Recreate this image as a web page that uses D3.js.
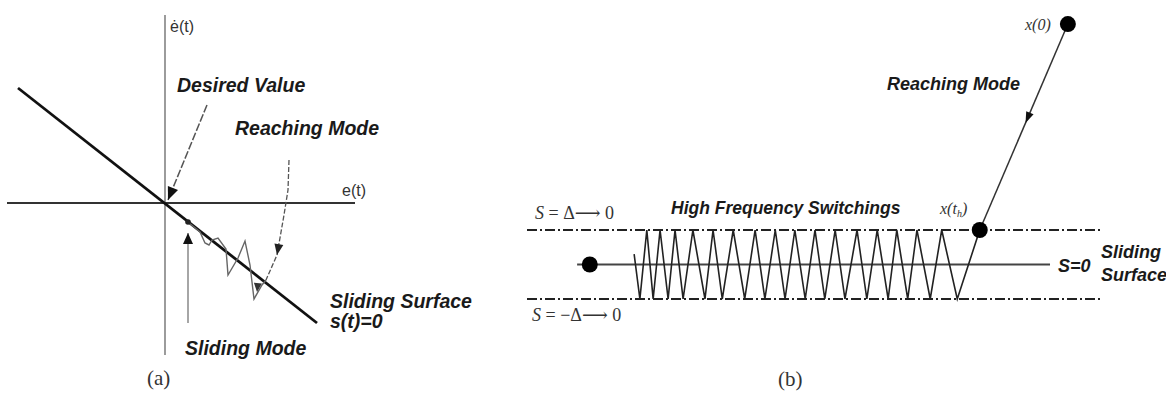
<!DOCTYPE html>
<html>
<head>
<meta charset="utf-8">
<script src="https://cdn.jsdelivr.net/npm/d3@7"></script>
<style>
  body { margin: 0; background: #fff; }
  svg { display: block; }
  .bi { font-family: "Liberation Sans", Arial, sans-serif; font-weight: bold; font-style: italic; fill: #1a1a1a; }
  .serif { font-family: "Liberation Serif", "DejaVu Serif", serif; fill: #333; }
</style>
</head>
<body>
<div id="chart"></div>
<script>
// ---- panel (a): phase plane e(t) / de(t), values in plot units ----
var surfaceA = [[-1.47, 1.15], [1.52, -1.20]];          // s(t)=0
var slidingTraj = [[0.23, -0.19], [0.35, -0.29], [0.40, -0.40], [0.44, -0.42], [0.47, -0.37],
                   [0.53, -0.35], [0.61, -0.46], [0.63, -0.72], [0.73, -0.55], [0.80, -0.38],
                   [0.85, -0.62], [0.89, -0.96], [0.97, -0.82], [1.01, -0.77]];
var reachingA = [[1.24, 0.43], [1.23, 0.13], [1.19, -0.12], [1.12, -0.52], [1.01, -0.77]];
var desiredArrow = [[0.42, 0.98], [0.03, 0.03]];
var slidingArrow = [[0.23, -1.20], [0.23, -0.30]];

// ---- panel (b): switching band, x = time-ish units, s in units of delta ----
var bandS = [1, -1];
var zigX = [1.86, 1.96, 2.08, 2.19, 2.31, 2.45, 2.57, 2.71, 2.88, 3.09, 3.23, 3.39, 3.58, 3.78, 3.96,
            4.13, 4.31, 4.48, 4.65, 4.83, 5.00, 5.17, 5.35, 5.52, 5.73, 5.90, 6.08, 6.27, 6.42,
            6.61, 6.77, 7.00, 7.20, 7.47, 7.86];
var zigS = [0.3, -1, 1, -1, 1, -1, 1, -1, 1, -1, 1, -1, 1, -1, 1,
            -1, 1, -1, 1, -1, 1, -1, 1, -1, 1, -1, 1, -1, 1,
            -1, 1, -1, 1, -1, 1];
var x0 = [9.39, 6.97];
var xth = [7.86, 1.0];
var startDot = [1.09, 0];
var surfaceB = [0.87, 9.08];

var W = 1166, H = 393;
var svg = d3.select('#chart').append('svg').attr('width', W).attr('height', H);

var xA = d3.scaleLinear().domain([-1.58, 1.90]).range([7, 355]);
var yA = d3.scaleLinear().domain([-1.52, 1.88]).range([355, 15]);
var xB = d3.scaleLinear().domain([0, 10]).range([527, 1103]);
var yB = d3.scaleLinear().domain([-1, 1]).range([299, 230]);

var lineA = d3.line().x(function(d) { return xA(d[0]); }).y(function(d) { return yA(d[1]); });
var lineB = d3.line().x(function(d) { return xB(d[0]); }).y(function(d) { return yB(d[1]); });

// filled triangle at (px,py) pointing along angle
function arrowHead(g, px, py, ang, len, wid, col) {
  var c = Math.cos(ang), s = Math.sin(ang);
  var bx = px - c * len, by = py - s * len;
  var pts = [[px, py], [bx - s * wid, by + c * wid], [bx + s * wid, by - c * wid]];
  g.append('path').attr('d', 'M' + pts.join('L') + 'Z').attr('fill', col);
}

// ================= panel (a) =================
var ga = svg.append('g');
ga.append('line').attr('x1', xA(-1.58)).attr('x2', xA(1.90)).attr('y1', yA(0)).attr('y2', yA(0))
  .attr('stroke', '#333').attr('stroke-width', 1.8);
ga.append('line').attr('x1', xA(0)).attr('x2', xA(0)).attr('y1', yA(1.88)).attr('y2', yA(-1.52))
  .attr('stroke', '#666').attr('stroke-width', 1.3);

ga.append('path').attr('d', lineA(surfaceA)).attr('stroke', '#111').attr('stroke-width', 2.8).attr('fill', 'none');

ga.append('path').attr('d', lineA(slidingTraj)).attr('stroke', '#666').attr('stroke-width', 1.4).attr('fill', 'none');
ga.append('circle').attr('cx', xA(slidingTraj[0][0])).attr('cy', yA(slidingTraj[0][1])).attr('r', 2.8).attr('fill', '#222');
arrowHead(ga, xA(0.92), yA(-0.89), Math.PI / 2 + 0.1, 9, 4, '#333');

ga.append('path').attr('d', lineA(reachingA)).attr('stroke', '#555').attr('stroke-width', 1.3)
  .attr('stroke-dasharray', '5,2').attr('fill', 'none');
var ra = reachingA[3], rb = reachingA[2];
arrowHead(ga, xA(ra[0]), yA(ra[1]), Math.atan2(yA(ra[1]) - yA(rb[1]), xA(ra[0]) - xA(rb[0])), 11, 4.5, '#222');

// desired value arrow
ga.append('path').attr('d', lineA(desiredArrow)).attr('stroke', '#555').attr('stroke-width', 1.5)
  .attr('stroke-dasharray', '8,2').attr('fill', 'none');
var dp = desiredArrow[1], dq = desiredArrow[0];
arrowHead(ga, xA(dp[0]), yA(dp[1]), Math.atan2(yA(dp[1]) - yA(dq[1]), xA(dp[0]) - xA(dq[0])), 13, 5.5, '#111');

// sliding mode arrow
ga.append('path').attr('d', lineA(slidingArrow)).attr('stroke', '#888').attr('stroke-width', 1.5).attr('fill', 'none');
arrowHead(ga, xA(slidingArrow[1][0]), yA(slidingArrow[1][1]), -Math.PI / 2, 11, 5, '#111');

ga.append('text').attr('x', 170).attr('y', 32).attr('font-family', 'Liberation Sans, sans-serif')
  .attr('font-size', 16).attr('fill', '#333').text('ė(t)');
ga.append('text').attr('x', 342).attr('y', 196).attr('font-family', 'Liberation Sans, sans-serif')
  .attr('font-size', 16).attr('fill', '#333').text('e(t)');
ga.append('text').attr('class', 'bi').attr('x', 177).attr('y', 92).attr('font-size', 19.5).text('Desired Value');
ga.append('text').attr('class', 'bi').attr('x', 235).attr('y', 135).attr('font-size', 19.5).text('Reaching Mode');
ga.append('text').attr('class', 'bi').attr('x', 330).attr('y', 308).attr('font-size', 19.5).text('Sliding Surface');
ga.append('text').attr('class', 'bi').attr('x', 330).attr('y', 328).attr('font-size', 19.5).text('s(t)=0');
ga.append('text').attr('class', 'bi').attr('x', 185).attr('y', 355).attr('font-size', 19.5).text('Sliding Mode');
ga.append('text').attr('class', 'serif').attr('x', 147).attr('y', 385).attr('font-size', 21).text('(a)');

// ================= panel (b) =================
var gb = svg.append('g');
bandS.forEach(function(s) {
  gb.append('line').attr('x1', xB(0)).attr('x2', xB(10)).attr('y1', yB(s)).attr('y2', yB(s))
    .attr('stroke', '#222').attr('stroke-width', 2.2).attr('stroke-dasharray', '10,3,2,3');
});
gb.append('line').attr('x1', xB(surfaceB[0])).attr('x2', xB(surfaceB[1])).attr('y1', yB(0)).attr('y2', yB(0))
  .attr('stroke', '#444').attr('stroke-width', 2);

var zig = zigX.map(function(x, i) { return [x, zigS[i]]; });
gb.append('path').attr('d', lineB(zig)).attr('stroke', '#222').attr('stroke-width', 1.6)
  .attr('stroke-linejoin', 'miter').attr('fill', 'none');

gb.append('path').attr('d', lineB([x0, xth])).attr('stroke', '#333').attr('stroke-width', 1.5).attr('fill', 'none');
var mx = xB(x0[0] + (xth[0] - x0[0]) * 0.48), my = yB(x0[1] + (xth[1] - x0[1]) * 0.48);
arrowHead(gb, mx, my, Math.atan2(yB(xth[1]) - yB(x0[1]), xB(xth[0]) - xB(x0[0])), 11, 4, '#111');

[x0, xth, startDot].forEach(function(p) {
  gb.append('circle').attr('cx', xB(p[0])).attr('cy', yB(p[1])).attr('r', 8).attr('fill', '#000');
});

gb.append('text').attr('class', 'serif').attr('x', 1025).attr('y', 30).attr('font-size', 16)
  .attr('font-style', 'italic').text('x(0)');
var th = gb.append('text').attr('class', 'serif').attr('x', 940).attr('y', 214).attr('font-size', 16).attr('font-style', 'italic');
th.append('tspan').text('x(t');
th.append('tspan').attr('font-size', 10).attr('dy', 3).text('h');
th.append('tspan').attr('dy', -3).text(')');

gb.append('text').attr('class', 'bi').attr('x', 887).attr('y', 90).attr('font-size', 18).text('Reaching Mode');
gb.append('text').attr('class', 'bi').attr('x', 671).attr('y', 214).attr('font-size', 17.5).text('High Frequency Switchings');
gb.append('text').attr('class', 'bi').attr('x', 1058).attr('y', 272).attr('font-size', 18).text('S=0');
gb.append('text').attr('class', 'bi').attr('x', 1101).attr('y', 258).attr('font-size', 18).text('Sliding');
gb.append('text').attr('class', 'bi').attr('x', 1101).attr('y', 281).attr('font-size', 18).text('Surface');

var t1 = gb.append('text').attr('class', 'serif').attr('x', 535).attr('y', 219).attr('font-size', 18).attr('fill', '#444');
t1.append('tspan').attr('font-style', 'italic').text('S');
t1.append('tspan').text(' = Δ⟶ 0');
var t2 = gb.append('text').attr('class', 'serif').attr('x', 532).attr('y', 321).attr('font-size', 18).attr('fill', '#444');
t2.append('tspan').attr('font-style', 'italic').text('S');
t2.append('tspan').text(' = −Δ⟶ 0');

gb.append('text').attr('class', 'serif').attr('x', 778).attr('y', 386).attr('font-size', 21).text('(b)');
</script>
</body>
</html>
